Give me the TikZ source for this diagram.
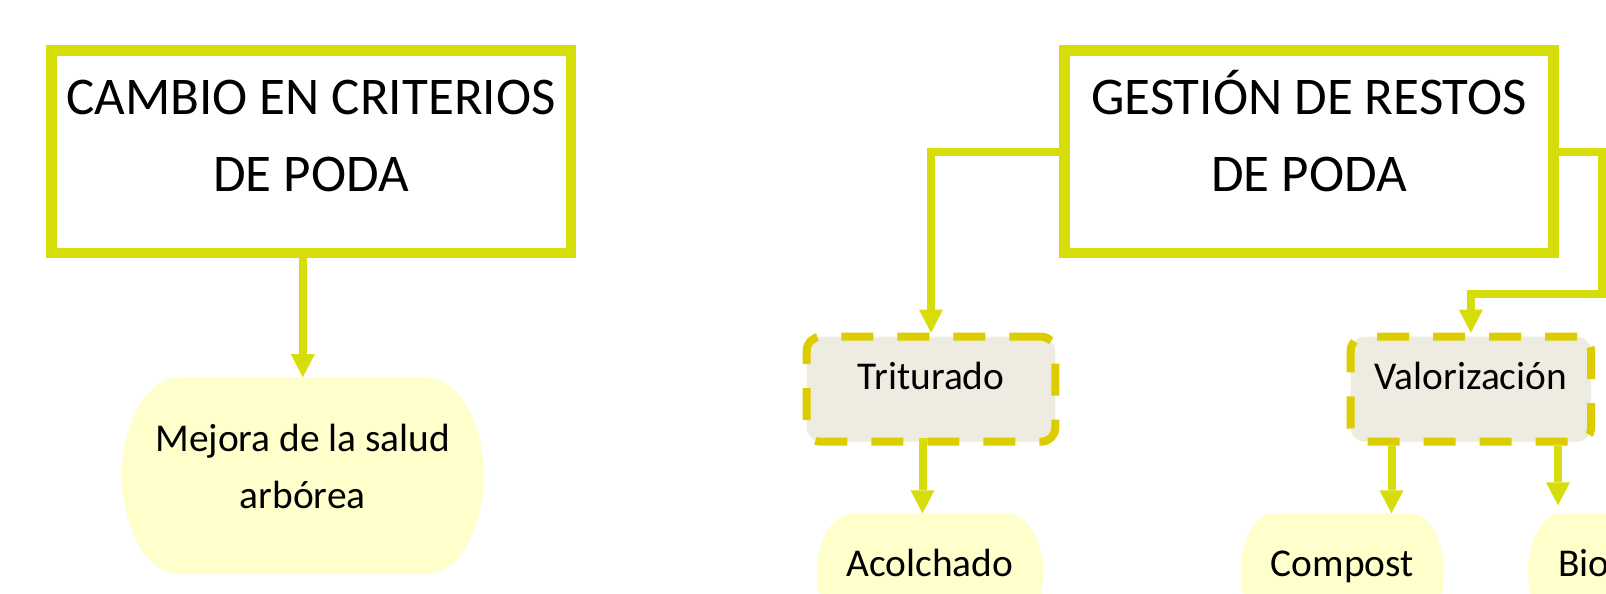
\documentclass[tikz,border=0pt]{standalone}
\usepackage{fontspec}
\setmainfont{Carlito}
\usetikzlibrary{calc,backgrounds}

\definecolor{lime}{RGB}{215,221,11}
\definecolor{dashgold}{RGB}{221,204,0}
\definecolor{sand}{RGB}{238,236,225}
\definecolor{cream}{RGB}{255,255,204}

\tikzset{
  titlebox/.style={draw=lime, line width=10.5pt, fill=white, minimum width=519.5pt,
    minimum height=202.5pt, inner sep=0pt, align=center, font=\fontsize{53}{77.7}\selectfont},
  dashbox/.style={draw=dashgold, fill=sand, line width=8pt, dash pattern=on 32pt off 24pt,
    rounded corners=14pt, minimum height=105pt, inner sep=0pt, text height=28pt,
    text depth=27pt, font=\fontsize{39.4}{56.6}\selectfont},
  pill/.style={inner sep=0pt, outer sep=0pt, align=center, font=\fontsize{39.4}{56.6}\selectfont},
  pillline/.style={pill, minimum height=118pt, text height=28pt, text depth=20.6pt},
  conn/.style={draw=lime, line width=8pt}
}

\newcommand\pillfill[1]{%
  \fill [cream] let \p1=(#1.north west), \p2=(#1.south east),
    \n1={0.161*(\x2-\x1)}, \n2={(\y1-\y2)/2} in
    (\x1+\n1,\y1) -- (\x2-\n1,\y1)
    arc [start angle=90, end angle=-90, x radius=\n1, y radius=\n2]
    -- (\x1+\n1,\y2)
    arc [start angle=270, end angle=90, x radius=\n1, y radius=\n2] -- cycle;}

\begin{document}
\begin{tikzpicture}[x=1pt,y=1pt]
\useasboundingbox (0,0) rectangle (1606,-594);
\clip (0,0) rectangle (1606,-594);

\node (cambio) [titlebox] at (311,-151.75)
  {\rule{0pt}{45pt}CAMBIO EN CRITERIOS\\DE PODA\rule[-42.8pt]{0pt}{42.8pt}};
\node (gestion) [titlebox, minimum width=489pt] at (1309,-151.75)
  {\rule{0pt}{45pt}GESTIÓN DE RESTOS\\DE PODA\rule[-42.8pt]{0pt}{42.8pt}};

\node (triturado) [dashbox, minimum width=248.6pt] at (931,-389.2) {Triturado};
\node (valorizacion) [dashbox, minimum width=240.3pt] at (1470.85,-389.2) {Valorización};

\node (mejora) [pill, minimum width=362pt, minimum height=197pt] at (302.8,-475.7)
  {\rule{0pt}{30pt}Mejora de la salud\\arbórea\rule[-21.4pt]{0pt}{21.4pt}};
\node (acolchado) [pillline, minimum width=226.6pt] at (930,-572.3) {Acolchado};
\node (compost) [pillline, minimum width=203.3pt] at (1342.3,-572.3) {Compost};
\node (bio) [pillline, minimum width=203.3pt, text width=143pt, align=left] at (1629.8,-572.3) {Bio};

\begin{scope}[on background layer]
\pillfill{mejora}
\pillfill{acolchado}
\pillfill{compost}
\pillfill{bio}
\end{scope}

\coordinate (bend) at (1602,-294);

\draw [conn] (mejora.north |- cambio.south) -- ([yshift=23pt]mejora.north);
\fill [lime] (mejora.north) -- ++(-12,23) -- ++(24,0) -- cycle;

\draw [conn] (gestion.west) -| ([yshift=23pt]triturado.north);
\fill [lime] (triturado.north) -- ++(-12,23) -- ++(24,0) -- cycle;

\draw [conn] (gestion.east) -| (bend) -| ([yshift=23pt]valorizacion.north);
\fill [lime] (valorizacion.north) -- ++(-12,23) -- ++(24,0) -- cycle;

\draw [conn] ([xshift=-7.5pt,yshift=8pt]acolchado.north |- triturado.south) -- ([xshift=-7.5pt,yshift=23pt]acolchado.north);
\fill [lime] ([xshift=-7.5pt]acolchado.north) -- ++(-12,23) -- ++(24,0) -- cycle;

\draw [conn] ([xshift=49.2pt]compost.north |- valorizacion.south) -- ([xshift=49.2pt,yshift=23pt]compost.north);
\fill [lime] ([xshift=49.2pt]compost.north) -- ++(-12,23) -- ++(24,0) -- cycle;

\draw [conn] ([xshift=-71.8pt]bio.north |- valorizacion.south) -- ([xshift=-71.8pt,yshift=31pt]bio.north);
\fill [lime] ([xshift=-71.8pt,yshift=8pt]bio.north) -- ++(-12,23) -- ++(24,0) -- cycle;
\end{tikzpicture}
\end{document}
